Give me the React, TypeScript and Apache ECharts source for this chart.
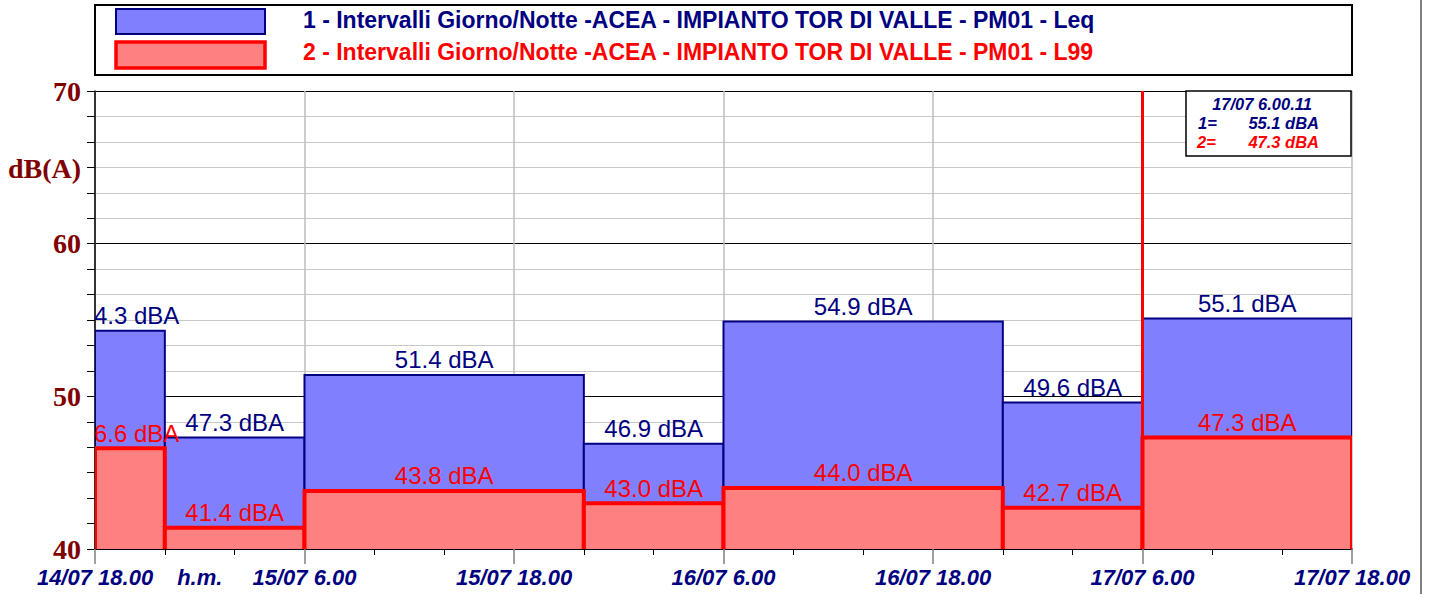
import React, { useEffect, useRef } from "react";
import * as echarts from "echarts";

// ---- data ----
// hours elapsed since 14/07 18.00
const intervalStart = [0, 4, 12, 28, 36, 52, 60];
const intervalEnd = [4, 12, 28, 36, 52, 60, 72];
const leqValues = [54.3, 47.3, 51.4, 46.9, 54.9, 49.6, 55.1];
const l99Values = [46.6, 41.4, 43.8, 43.0, 44.0, 42.7, 47.3];
const seriesNames = [
  "1 - Intervalli Giorno/Notte -ACEA - IMPIANTO TOR DI VALLE - PM01 - Leq",
  "2 - Intervalli Giorno/Notte -ACEA - IMPIANTO TOR DI VALLE - PM01 - L99",
];
const xTickHours = [0, 6, 12, 24, 36, 48, 60, 72];
const xTickLabels = [
  "14/07 18.00",
  "h.m.",
  "15/07 6.00",
  "15/07 18.00",
  "16/07 6.00",
  "16/07 18.00",
  "17/07 6.00",
  "17/07 18.00",
];
const yMin = 40;
const yMax = 70;
const yStep = 10;
const xMax = 72;
const cursorHour = 60;
const cursorLabel = "17/07 6.00.11";
const cursorIndex = 6;
const yAxisName = "dB(A)";

const NAVY = "#000080";
const RED = "#ff0000";
const BLUE_FILL = "#8080ff";
const RED_FILL = "#ff8080";
const SANS = '"Liberation Sans", Arial, sans-serif';
const SERIF = '"Liberation Serif", "Times New Roman", serif';

export default function App() {
  const ref = useRef<HTMLDivElement>(null);

  useEffect(() => {
    document.body.style.margin = "0";
    const chart = echarts.init(ref.current!, null, { renderer: "svg" });

    const rows = intervalStart.map((s, i) => [s, intervalEnd[i], leqValues[i], l99Values[i]]);

    const makeRender = (valueDim: number, fill: string, stroke: string, lw: number, labelColor: string, outlineOnly: boolean) =>
      (params: any, api: any) => {
        const s = api.value(0);
        const e = api.value(1);
        const v = api.value(valueDim);
        const p0 = api.coord([s, v]);
        const p1 = api.coord([e, yMin]);
        const children: any[] = [];
        if (outlineOnly) {
          children.push({
            type: "rect",
            shape: { x: p0[0], y: p0[1], width: p1[0] - p0[0], height: p1[1] - p0[1] },
            style: { fill },
          });
          children.push({
            type: "polyline",
            shape: { points: [[p0[0], p1[1]], [p0[0], p0[1]], [p1[0], p0[1]], [p1[0], p1[1]]] },
            style: { fill: "none", stroke, lineWidth: lw },
          });
        } else {
          children.push({
            type: "rect",
            shape: { x: p0[0], y: p0[1], width: p1[0] - p0[0], height: p1[1] - p0[1] },
            style: { fill, stroke, lineWidth: lw },
          });
        }
        children.push({
          type: "text",
          x: (p0[0] + p1[0]) / 2,
          y: p0[1] - 3,
          style: {
            text: v.toFixed(1) + " dBA",
            fill: labelColor,
            font: `24px ${SANS}`,
            align: "center",
            verticalAlign: "bottom",
          },
        });
        return { type: "group", children };
      };

    const labelFor = (v: number) => {
      const idx = xTickHours.indexOf(v);
      return idx >= 0 ? xTickLabels[idx] : "";
    };

    const option: any = {
      animation: false,
      backgroundColor: "#ffffff",
      grid: { left: 95, right: 81, top: 91, bottom: 45, containLabel: false },
      xAxis: {
        type: "value",
        min: 0,
        max: xMax,
        interval: 12,
        axisLine: { show: true, lineStyle: { color: "#000", width: 1.5 } },
        axisTick: { show: true, length: 15, lineStyle: { color: "#808080", width: 1.5 } },
        minorTick: { show: true, splitNumber: 3, length: 6, lineStyle: { color: "#000", width: 1 } },
        splitLine: { show: true, lineStyle: { color: "#bdbdbd", width: 1.5 } },
        axisLabel: {
          customValues: xTickHours,
          formatter: (v: number) => labelFor(v),
          color: NAVY,
          fontFamily: SANS,
          fontWeight: "bold",
          fontStyle: "italic",
          fontSize: 22,
          margin: 17,
          showMinLabel: true,
          showMaxLabel: true,
          hideOverlap: false,
        },
      },
      yAxis: {
        type: "value",
        min: yMin,
        max: yMax,
        interval: yStep,
        axisLine: { show: true, lineStyle: { color: "#000", width: 1.5 } },
        axisTick: { show: true, length: 8, lineStyle: { color: "#000", width: 1 } },
        minorTick: { show: true, splitNumber: 6, length: 8, lineStyle: { color: "#000", width: 1 } },
        splitLine: { show: true, lineStyle: { color: "#000", width: 1 } },
        minorSplitLine: { show: true, lineStyle: { color: "#c8c8c8", width: 1.2 } },
        axisLabel: {
          color: "#800000",
          fontFamily: SERIF,
          fontWeight: "bold",
          fontSize: 28,
          margin: 14,
        },
      },
      series: [
        {
          name: seriesNames[0],
          type: "custom",
          clip: true,
          renderItem: makeRender(2, BLUE_FILL, NAVY, 2, NAVY, false),
          encode: { x: [0, 1], y: 2 },
          data: rows,
          z: 2,
        },
        {
          name: seriesNames[1],
          type: "custom",
          clip: true,
          renderItem: makeRender(3, RED_FILL, RED, 4, RED, true),
          encode: { x: [0, 1], y: 3 },
          data: rows,
          z: 3,
          markLine: {
            silent: true,
            symbol: ["none", "none"],
            label: { show: false },
            lineStyle: { color: RED, width: 3, type: "solid" },
            data: [{ xAxis: cursorHour }],
            z: 10,
          },
        },
      ],
      graphic: [
        // legend box
        {
          type: "rect",
          shape: { x: 95, y: 5, width: 1257, height: 70 },
          style: { fill: "#fff", stroke: "#000", lineWidth: 2 },
        },
        {
          type: "rect",
          shape: { x: 116, y: 9, width: 149, height: 25 },
          style: { fill: BLUE_FILL, stroke: NAVY, lineWidth: 2 },
        },
        {
          type: "rect",
          shape: { x: 116, y: 42, width: 149, height: 26 },
          style: { fill: RED_FILL, stroke: RED, lineWidth: 3.5 },
        },
        {
          type: "text",
          x: 303,
          y: 20,
          style: { text: seriesNames[0], fill: NAVY, font: `bold 23px ${SANS}`, verticalAlign: "middle" },
        },
        {
          type: "text",
          x: 303,
          y: 52,
          style: { text: seriesNames[1], fill: RED, font: `bold 23px ${SANS}`, verticalAlign: "middle" },
        },
        // y axis name
        {
          type: "text",
          x: 8,
          y: 168,
          style: { text: yAxisName, fill: "#800000", font: `bold 28px ${SERIF}`, verticalAlign: "middle" },
        },
        // cursor readout box
        {
          type: "rect",
          z: 20,
          shape: { x: 1186, y: 91, width: 165, height: 65 },
          style: { fill: "#fff", stroke: "#000", lineWidth: 1.5 },
        },
        {
          type: "text",
          z: 21,
          x: 1262,
          y: 104,
          style: { text: cursorLabel, fill: NAVY, font: `italic bold 16.5px ${SANS}`, align: "center", verticalAlign: "middle" },
        },
        {
          type: "text",
          z: 21,
          x: 1198,
          y: 123,
          style: { text: "1=", fill: NAVY, font: `italic bold 16.5px ${SANS}`, verticalAlign: "middle" },
        },
        {
          type: "text",
          z: 21,
          x: 1319,
          y: 123,
          style: { text: leqValues[cursorIndex].toFixed(1) + " dBA", fill: NAVY, font: `italic bold 16.5px ${SANS}`, align: "right", verticalAlign: "middle" },
        },
        {
          type: "text",
          z: 21,
          x: 1197,
          y: 142,
          style: { text: "2=", fill: RED, font: `italic bold 16.5px ${SANS}`, verticalAlign: "middle" },
        },
        {
          type: "text",
          z: 21,
          x: 1319,
          y: 142,
          style: { text: l99Values[cursorIndex].toFixed(1) + " dBA", fill: RED, font: `italic bold 16.5px ${SANS}`, align: "right", verticalAlign: "middle" },
        },
        // outer frame edge
        {
          type: "line",
          shape: { x1: 1421, y1: 0, x2: 1421, y2: 594 },
          style: { stroke: "#808080", lineWidth: 2 },
        },
      ],
    };

    chart.setOption(option);
    return () => chart.dispose();
  }, []);

  return <div ref={ref} style={{ width: 1433, height: 594 }} />;
}
